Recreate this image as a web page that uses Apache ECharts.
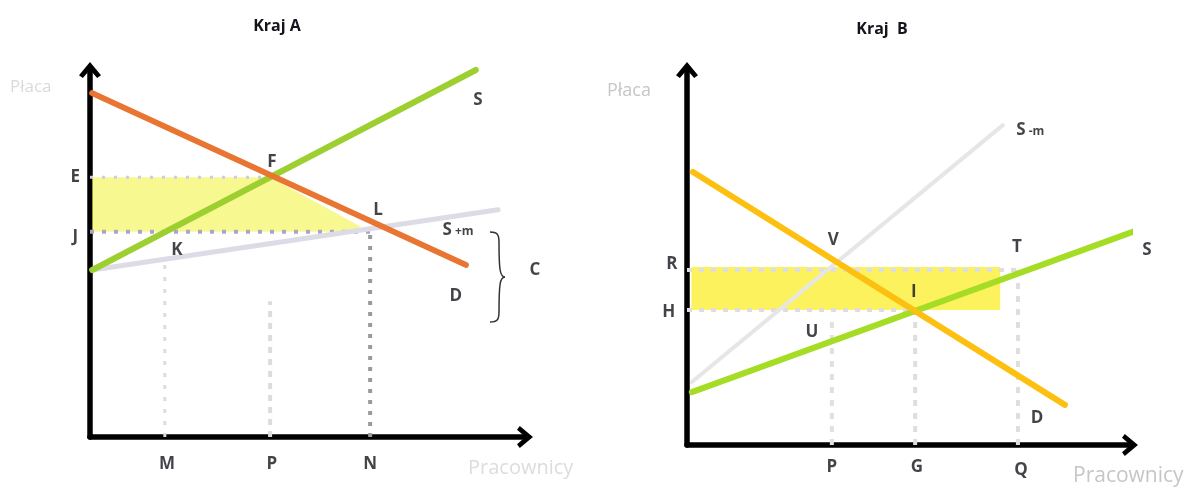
<!DOCTYPE html>
<html>
<head>
<meta charset="utf-8">
<script src="https://cdn.jsdelivr.net/npm/echarts@6/dist/echarts.min.js"></script>
<style>
  html, body { margin: 0; padding: 0; background: #fff; }
  #chart { width: 1188px; height: 491px; }
</style>
</head>
<body>
<div id="chart"></div>
<script>
// Kraj A (workers 0-100, wage 0-100)
var demandA = [[0.5, 93.7], [86.4, 46.9]];
var supplyA = [[0.5, 45.5], [88.7, 100]];
var supplyPlusA = [[0.5, 45.5], [93.8, 61.9]];
var levelE = [[0, 70.8], [41.4, 70.8]];
var levelJ = [[0, 55.9], [64.4, 55.9]];
var dropM = [[17.2, 0], [17.2, 47]];
var dropP_A = [[41.4, 0], [41.4, 37]];
var dropN = [[64.4, 0], [64.4, 55.9]];
var areaA = [[0.5, 70.8], [41.4, 70.8], [62, 57.5], [62, 55.9], [0.5, 55.9]];
var labelsA = [
  ["E", -3.4, 70.8], ["J", -3.4, 54.5], ["K", 20, 51], ["F", 41.8, 74.9],
  ["L", 66.2, 61.9], ["S", 89.2, 91.8], ["S +m", 84.6, 56.4], ["D", 84.1, 38.4],
  ["C", 102.3, 45.5], ["M", 17.7, -7.4], ["P", 41.8, -7.4], ["N", 64.4, -7.4]
];

// Kraj B
var demandB = [[1.35, 72.8], [85.3, 10.7]];
var supplyB = [[1.1, 14.1], [106.8, 59.5]];
var supplyMinusB = [[1.1, 16.8], [71.3, 85.3]];
var levelR = [[0, 46.7], [74.7, 46.7]];
var levelH = [[0, 36], [51.5, 36]];
var dropP_B = [[32.7, 0], [32.7, 34]];
var dropG = [[51.5, 0], [51.5, 36]];
var dropQ = [[74.7, 0], [74.7, 48.5]];
var areaB = [[1, 47.5], [70.7, 47.5], [70.7, 36], [1, 36]];
var labelsB = [
  ["R", -3.4, 48.3], ["H", -4.1, 35.5], ["V", 33, 54.7], ["T", 74.5, 52.8],
  ["I", 51.2, 40.8], ["U", 28.2, 30.1], ["S -m", 77.5, 84], ["S", 103.8, 52],
  ["D", 79, 7.2], ["P", 32.7, -5.9], ["G", 51.9, -5.9], ["Q", 75.4, -6.7]
];

var chart = echarts.init(document.getElementById("chart"));

var chevron = "path://M0,12 L10,0 L20,12 L16.5,14.5 L10,7 L3.5,14.5 Z";

function axisPair(idx) {
  var line = {
    show: true,
    symbol: ["none", chevron],
    symbolSize: [22, 16],
    lineStyle: { color: "#000", width: 5.5 }
  };
  return {
    x: { type: "value", gridIndex: idx, min: 0, max: 100, axisLine: line,
         axisTick: { show: false }, axisLabel: { show: false }, splitLine: { show: false } },
    y: { type: "value", gridIndex: idx, min: 0, max: 100, axisLine: line,
         axisTick: { show: false }, axisLabel: { show: false }, splitLine: { show: false } }
  };
}
var axA = axisPair(0), axB = axisPair(1);

function seg(idx, data, color, width, dash, z) {
  return {
    type: "line", xAxisIndex: idx, yAxisIndex: idx, data: data,
    symbol: "none", clip: false, silent: true, z: z || 3,
    lineStyle: { color: color, width: width, type: dash || "solid", cap: dash ? "butt" : "round" }
  };
}

function area(idx, pts, fill) {
  return {
    type: "custom", xAxisIndex: idx, yAxisIndex: idx, data: [[0, 0]], z: 1, silent: true,
    renderItem: function (params, api) {
      return {
        type: "polygon",
        shape: { points: pts.map(function (p) { return api.coord(p); }) },
        style: { fill: fill }
      };
    }
  };
}

function labels(idx, list) {
  return {
    type: "scatter", xAxisIndex: idx, yAxisIndex: idx, symbolSize: 0, clip: false, z: 5, silent: true,
    data: list.map(function (l) { return { value: [l[1], l[2]], name: l[0] }; }),
    label: {
      show: true, position: "inside",
      formatter: function (p) {
        var parts = p.name.split(" ");
        return parts.length > 1 ? "{b|" + parts[0] + "}{s| " + parts[1] + "}" : "{b|" + p.name + "}";
      },
      rich: {
        b: { fontFamily: "Open Sans", fontWeight: "bold", fontSize: 17, color: "#14141c" },
        s: { fontFamily: "Open Sans", fontWeight: "bold", fontSize: 12, color: "#14141c", padding: [4, 0, 0, 0] }
      }
    }
  };
}

// brace next to "C"
function curve(x1, y1, c1x, c1y, c2x, c2y, x2, y2) {
  return {
    type: "bezierCurve",
    shape: { x1: x1, y1: y1, cpx1: c1x, cpy1: c1y, cpx2: c2x, cpy2: c2y, x2: x2, y2: y2 },
    style: { fill: null, stroke: "#333", lineWidth: 1.5 }
  };
}

var option = {
  backgroundColor: "#fff",
  animation: false,
  title: [
    { text: "Kraj A", left: 272, top: 13, textAlign: "center",
      textStyle: { fontFamily: "Open Sans", fontSize: 16, fontWeight: "bold", color: "#14141c" } },
    { text: "Kraj  B", left: 877, top: 16, textAlign: "center",
      textStyle: { fontFamily: "Open Sans", fontSize: 16, fontWeight: "bold", color: "#14141c" } }
  ],
  grid: [
    { left: 90, top: 70, width: 435, height: 367 },
    { left: 687, top: 70, width: 443, height: 375 }
  ],
  xAxis: [axA.x, axB.x],
  yAxis: [axA.y, axB.y],
  graphic: [
    { type: "text", x: 10, y: 79, style: { text: "Płaca", fontFamily: "Open Sans", fontSize: 17, fill: "#dadada" } },
    { type: "text", x: 468, y: 458, style: { text: "Pracownicy", fontFamily: "Open Sans", fontSize: 20, fill: "#dcdcdc" } },
    { type: "text", x: 607, y: 82, style: { text: "Płaca", fontFamily: "Open Sans", fontSize: 18, fill: "#c6c6c6" } },
    { type: "text", x: 1073, y: 466, style: { text: "Pracownicy", fontFamily: "Open Sans", fontSize: 21, fill: "#c6c6c6" } },
    curve(490, 232, 497, 232, 499, 234, 499, 242),
    curve(499, 242, 499, 270, 500, 277, 505, 277),
    curve(505, 277, 500, 277, 499, 284, 499, 312),
    curve(499, 312, 499, 320, 497, 322, 490, 322)
  ],
  series: [
    area(0, areaA, "rgba(244,244,70,0.6)"),
    seg(0, levelE, "#cfcbe6", 3, [3, 9], 2),
    seg(0, levelJ, "#a9a6c6", 4, [4, 8], 2),
    seg(0, dropM, "#dcdcdc", 3, [4, 8], 2),
    seg(0, dropP_A, "#dcdcdc", 4, [6, 6], 2),
    seg(0, dropN, "#9a9a9a", 4, [4, 7], 2),
    seg(0, supplyPlusA, "#dcdce6", 5),
    seg(0, supplyA, "#9ccf2f", 6),
    seg(0, demandA, "#e87532", 6),
    labels(0, labelsA),

    area(1, areaB, "rgba(250,238,40,0.75)"),
    seg(1, levelR, "#dedede", 4, [5, 7], 2),
    seg(1, levelH, "#dedede", 4, [5, 7], 2),
    seg(1, dropP_B, "#e0e0e0", 4, [6, 7], 2),
    seg(1, dropG, "#dedede", 4, [6, 7], 2),
    seg(1, dropQ, "#dedede", 4, [6, 7], 2),
    seg(1, supplyMinusB, "#e6e6e6", 4),
    seg(1, supplyB, "#a5dc24", 6),
    seg(1, demandB, "#fdbf10", 6),
    labels(1, labelsB)
  ]
};

chart.setOption(option);
</script>
</body>
</html>
